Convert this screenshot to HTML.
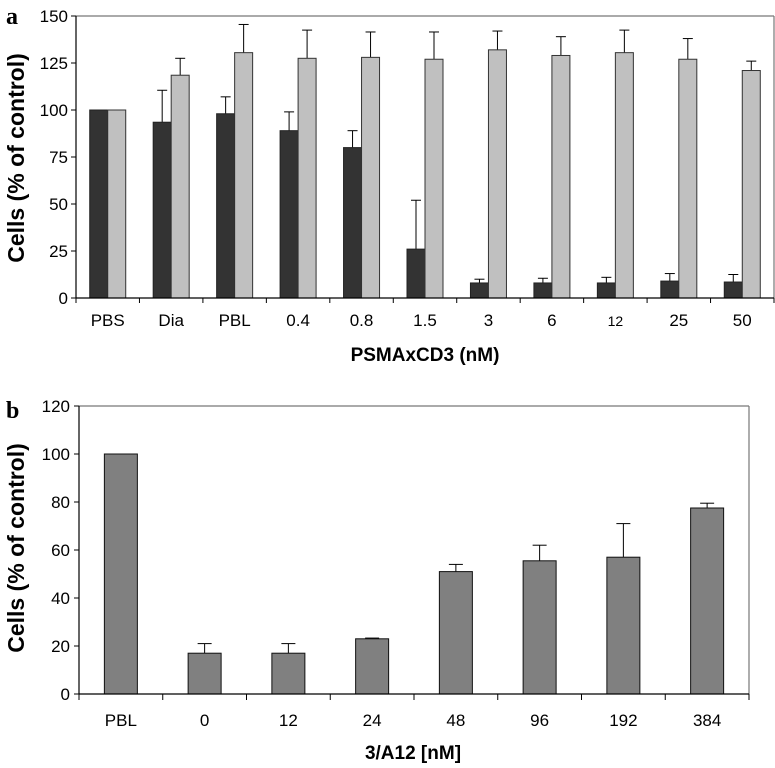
<!DOCTYPE html>
<html><head><meta charset="utf-8"><style>
html,body{margin:0;padding:0;background:#fff;}
svg{display:block;font-family:"Liberation Sans",Arial,sans-serif;}
</style></head><body>
<svg id="chart" width="775" height="768" viewBox="0 0 775 768" xmlns="http://www.w3.org/2000/svg">
<text x="6" y="24" font-family="Liberation Serif,serif" font-weight="bold" font-size="24">a</text>
<text x="6" y="418" font-family="Liberation Serif,serif" font-weight="bold" font-size="24">b</text>
<g id="ga"></g>
<g id="gb"></g>
</svg>
<script>
const catsA = ["PBS","Dia","PBL","0.4","0.8","1.5","3","6","12","25","50"];
const darkVals = [100,93.5,98,89,80,26,8,8,8,9,8.5];
const darkErr = [100,110.5,107,99,89,52,10,10.5,11,13,12.5];
const lightVals = [100,118.5,130.5,127.5,128,127,132,129,130.5,127,121];
const lightErr = [100,127.5,145.5,142.5,141.5,141.5,142,139,142.5,138,126];
const ticksA = [0,25,50,75,100,125,150];
const catsB = ["PBL","0","12","24","48","96","192","384"];
const valsB = [100,17,17,23,51,55.5,57,77.5];
const errB = [100,21,21,23.3,54,62,71,79.5];
const ticksB = [0,20,40,60,80,100,120];

const NS="http://www.w3.org/2000/svg";
function mk(parent,tag,attrs,text){const e=document.createElementNS(NS,tag);for(const k in attrs)e.setAttribute(k,attrs[k]);if(text!==undefined)e.textContent=text;parent.appendChild(e);return e;}

// Panel A
(function(){
const g=document.getElementById('ga');
const L=76,R=774,T=16,B=298,max=150;
const y=v=>B-(v/max)*(B-T);
const cw=(R-L)/catsA.length;
const x=i=>L+cw*i;
mk(g,'line',{x1:L,y1:T,x2:R,y2:T,stroke:'#777','stroke-width':1.2});
mk(g,'line',{x1:R,y1:T,x2:R,y2:B,stroke:'#777','stroke-width':1.2});
ticksA.forEach(t=>{
  mk(g,'line',{x1:L-5,y1:y(t),x2:L,y2:y(t),stroke:'#000'});
  const tl=mk(g,'text',{x:L-8,y:y(t)+6,'text-anchor':'end','font-size':17},String(t));
  
  
});
const bw=18;
catsA.forEach((c,i)=>{
  const cx=x(i)+cw/2;
  [[cx-bw/2,darkErr[i],darkVals[i]],[cx+bw/2,lightErr[i],lightVals[i]]].forEach(([ex,e,v])=>{
    if(e>v){mk(g,'line',{x1:ex,y1:y(e),x2:ex,y2:y(v),stroke:'#000'});
    mk(g,'line',{x1:ex-5,y1:y(e),x2:ex+5,y2:y(e),stroke:'#000'});}
  });
  const d=mk(g,'rect',{x:cx-bw,y:y(darkVals[i]),width:bw,height:B-y(darkVals[i]),fill:'#333',stroke:'#222','stroke-width':1});
  
  
  const l=mk(g,'rect',{x:cx,y:y(lightVals[i]),width:bw,height:B-y(lightVals[i]),fill:'#c0c0c0',stroke:'#333','stroke-width':1});
  
  
  const tx=mk(g,'text',{x:cx,y:326,'text-anchor':'middle','font-size':c==='12'?14:17},c);
  
  
});
for(let i=0;i<=catsA.length;i++){mk(g,'line',{x1:x(i),y1:B,x2:x(i),y2:B+5,stroke:'#000'});}
mk(g,'line',{x1:L,y1:T,x2:L,y2:B,stroke:'#000','stroke-width':1.2});
mk(g,'line',{x1:L,y1:B,x2:R,y2:B,stroke:'#000','stroke-width':1.2});
const xt=mk(g,'text',{x:425,y:361,'text-anchor':'middle','font-size':19,'font-weight':'bold'},'PSMAxCD3 (nM)');


const yt=mk(g,'text',{x:0,y:0,'text-anchor':'middle','font-size':23,'font-weight':'bold',transform:'translate(24,158) rotate(-90)'},'Cells (% of control)');


})();

// Panel B
(function(){
const g=document.getElementById('gb');
const L=79,R=749,T=406,B=694,max=120;
const y=v=>B-(v/max)*(B-T);
const cw=(R-L)/catsB.length;
const x=i=>L+cw*i;
mk(g,'line',{x1:L,y1:T,x2:R,y2:T,stroke:'#777','stroke-width':1.2});
mk(g,'line',{x1:R,y1:T,x2:R,y2:B,stroke:'#777','stroke-width':1.2});
ticksB.forEach(t=>{
  mk(g,'line',{x1:L-5,y1:y(t),x2:L,y2:y(t),stroke:'#000'});
  const tl=mk(g,'text',{x:L-9,y:y(t)+6,'text-anchor':'end','font-size':17},String(t));
  
  
});
const bw=33;
catsB.forEach((c,i)=>{
  const cx=x(i)+cw/2;
  if(errB[i]>valsB[i]){
    mk(g,'line',{x1:cx,y1:y(errB[i]),x2:cx,y2:y(valsB[i]),stroke:'#000'});
    mk(g,'line',{x1:cx-7,y1:y(errB[i]),x2:cx+7,y2:y(errB[i]),stroke:'#000'});
  }
  const r=mk(g,'rect',{x:cx-bw/2,y:y(valsB[i]),width:bw,height:B-y(valsB[i]),fill:'#808080',stroke:'#111','stroke-width':1});
  
  
  const tx=mk(g,'text',{x:cx,y:726,'text-anchor':'middle','font-size':17},c);
  
  
});
for(let i=0;i<=catsB.length;i++){mk(g,'line',{x1:x(i),y1:B,x2:x(i),y2:B+6,stroke:'#000'});}
mk(g,'line',{x1:L,y1:T,x2:L,y2:B,stroke:'#000','stroke-width':1.2});
mk(g,'line',{x1:L,y1:B,x2:R,y2:B,stroke:'#000','stroke-width':1.2});
const xt=mk(g,'text',{x:413,y:759,'text-anchor':'middle','font-size':19,'font-weight':'bold'},'3/A12 [nM]');


const yt=mk(g,'text',{x:0,y:0,'text-anchor':'middle','font-size':23,'font-weight':'bold',transform:'translate(24,548) rotate(-90)'},'Cells (% of control)');


})();
</script>
</body></html>
